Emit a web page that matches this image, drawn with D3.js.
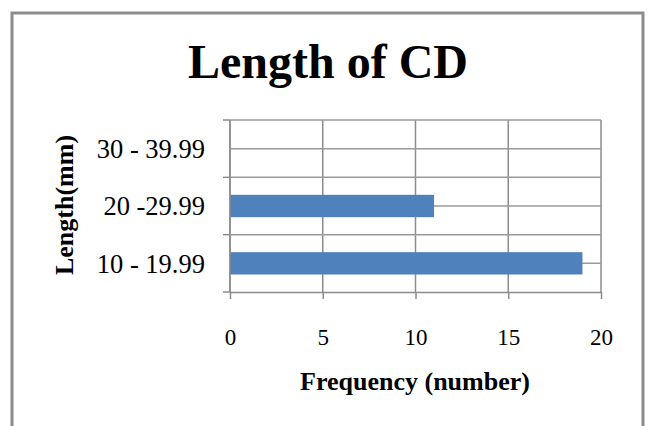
<!DOCTYPE html>
<html>
<head>
<meta charset="utf-8">
<script src="https://cdn.jsdelivr.net/npm/d3@7"></script>
<style>
  body { margin: 0; background: #fff; }
  svg { display: block; font-family: "Liberation Serif", "Times New Roman", serif; }
</style>
</head>
<body>
<div id="chart"></div>
<script>
// chart data
var categories = ['10 - 19.99', '20 -29.99', '30 - 39.99'];
var frequency = [19, 11, 0];
var xTicks = [0, 5, 10, 15, 20];
var title = 'Length of CD';
var xTitle = 'Frequency (number)';
var yTitle = 'Length(mm)';

var width = 649, height = 426;
var svg = d3.select('#chart').append('svg').attr('width', width).attr('height', height);

// outer frame (no bottom edge visible)
svg.append('path')
  .attr('d', 'M12,426 L12,13 L643,13 L643,426')
  .attr('fill', 'none').attr('stroke', '#8c8c8c').attr('stroke-width', 3);

var plotLeft = 230, plotRight = 601, plotTop = 120, plotBottom = 292;

var xScale = d3.scaleLinear().domain([0, 20]).range([plotLeft, plotRight]);
// categories bottom to top
var yScale = d3.scaleBand().domain(categories).range([plotBottom, plotTop]);

// vertical gridlines
svg.append('g').selectAll('line').data(xTicks).enter().append('line')
  .attr('x1', d => xScale(d)).attr('x2', d => xScale(d))
  .attr('y1', plotTop).attr('y2', plotBottom)
  .attr('stroke', '#8c8c8c').attr('stroke-width', 1.5);

// horizontal gridlines at category edges and centres
var hLines = [];
categories.forEach(c => {
  hLines.push(yScale(c));
  hLines.push(yScale(c) + yScale.bandwidth() / 2);
});
svg.append('g').selectAll('line').data(hLines).enter().append('line')
  .attr('x1', plotLeft).attr('x2', plotRight)
  .attr('y1', d => d).attr('y2', d => d)
  .attr('stroke', '#9a9a9a').attr('stroke-width', 1.5);

// bars
var barH = yScale.bandwidth() * 0.39;
svg.append('g').selectAll('rect').data(categories).enter().append('rect')
  .attr('x', xScale(0))
  .attr('y', (d) => yScale(d) + yScale.bandwidth() / 2 - barH / 2)
  .attr('width', (d, i) => xScale(frequency[i]) - xScale(0))
  .attr('height', barH)
  .style('fill', '#4f81bd');

// x axis
var xAxis = d3.axisBottom(xScale).tickValues(xTicks).tickSize(7).tickSizeOuter(0).tickPadding(30);
var gx = svg.append('g').attr('transform', 'translate(0,' + plotBottom + ')').call(xAxis);
gx.select('.domain').attr('stroke', '#8c8c8c').attr('stroke-width', 1.5);
gx.selectAll('.tick line').attr('stroke', '#8c8c8c').attr('stroke-width', 1.5);
gx.selectAll('text').style('font-size', '23px').attr('fill', '#000')
  .style('font-family', '"Liberation Serif", serif');

// y axis: ticks at category boundaries
var yEdges = [plotBottom].concat(categories.map(c => yScale(c)));
var gy = svg.append('g');
gy.append('line').attr('x1', plotLeft).attr('x2', plotLeft).attr('y1', plotTop).attr('y2', plotBottom)
  .attr('stroke', '#8c8c8c').attr('stroke-width', 1.5);
gy.selectAll('line.tk').data(yEdges).enter().append('line').attr('class', 'tk')
  .attr('x1', plotLeft - 7).attr('x2', plotLeft).attr('y1', d => d).attr('y2', d => d)
  .attr('stroke', '#8c8c8c').attr('stroke-width', 1.5);
gy.selectAll('text').data(categories).enter().append('text')
  .attr('x', 205)
  .attr('y', d => yScale(d) + yScale.bandwidth() / 2)
  .attr('dy', '0.35em')
  .attr('text-anchor', 'end')
  .style('font-size', '26.5px')
  .text(d => d);

// title
svg.append('text').attr('x', 328).attr('y', 78).attr('text-anchor', 'middle')
  .style('font-size', '48px').style('font-weight', 'bold').text(title);

// axis titles
svg.append('text').attr('x', 415).attr('y', 390).attr('text-anchor', 'middle')
  .style('font-size', '26px').style('font-weight', 'bold').text(xTitle);
svg.append('text').attr('transform', 'translate(73,205) rotate(-90)').attr('text-anchor', 'middle')
  .style('font-size', '26px').style('font-weight', 'bold').text(yTitle);
</script>
</body>
</html>
